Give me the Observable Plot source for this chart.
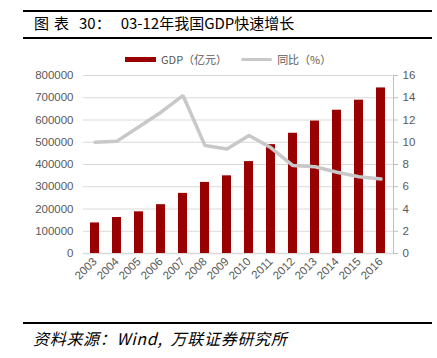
<!DOCTYPE html>
<html><head><meta charset="utf-8">
<script src="https://cdn.jsdelivr.net/npm/d3@7"></script>
<script src="https://cdn.jsdelivr.net/npm/@observablehq/plot@0.6"></script>
<style>
body{margin:0;background:#fff;}
#wrap{position:relative;width:437px;height:358px;overflow:hidden;font-family:"Noto Sans CJK SC",sans-serif;}
.rule{position:absolute;left:23px;width:409px;height:2px;background:#000;}
#title{position:absolute;left:34px;top:13px;font-size:15px;line-height:20px;color:#000;white-space:pre;}
#legend{position:absolute;left:125px;top:51px;font-size:11px;line-height:16px;color:#595959;white-space:nowrap;display:flex;align-items:center;}
#legend .sw{display:inline-block;width:31px;height:5px;margin-right:5px;}
#src{position:absolute;left:33px;top:327px;font-size:16px;line-height:22px;font-style:italic;color:#000;white-space:pre;letter-spacing:0.7px;}
#chart{position:absolute;left:0;top:0;}
</style></head><body>
<div id="wrap">
<div class="rule" style="top:10px"></div>
<div id="title"><span style="letter-spacing:5px">图表</span><span style="margin-left:5px">30：</span><span style="margin-left:10px">03-12年我国GDP快速增长</span></div>
<div class="rule" style="top:37px"></div>
<div id="chart"></div>
<div id="legend"><span class="sw" style="background:#990000"></span><span>GDP（亿元）</span><span class="sw" style="background:#c8c8c8;height:3px;border-radius:2px;margin-left:14px"></span><span>同比（%）</span></div>
<div class="rule" style="top:322px"></div>
<div id="src">资料来源：Wind,<span style="margin-left:8px">万联证券研究所</span></div>
</div>
<script>
const years = ["2003","2004","2005","2006","2007","2008","2009","2010","2011","2012","2013","2014","2015","2016"];
const gdp = [137422,161840,187319,219439,270232,319516,349081,413030,489301,540367,595244,643974,689052,744127];
const growth = [10.0,10.1,11.4,12.7,14.2,9.7,9.4,10.6,9.5,7.9,7.8,7.3,6.9,6.7];
const leftTicks = [0,100000,200000,300000,400000,500000,600000,700000,800000];
const rightTicks = [0,2,4,6,8,10,12,14,16];
const K = 800000 / 16;
const data = years.map((y, i) => ({year: y, gdp: gdp[i], growth: growth[i]}));

const chart = Plot.plot({
  width: 437, height: 358,
  marginTop: 75, marginBottom: 105, marginLeft: 83, marginRight: 44,
  style: {fontFamily: "'Liberation Sans', Arial, sans-serif", fontSize: "11.5px", color: "#595959", background: "transparent"},
  x: {type: "band", domain: years, paddingInner: 0.57, paddingOuter: 0.285, label: null},
  y: {domain: [0, 800000], label: null},
  marks: [
    Plot.ruleY(leftTicks.slice(1), {stroke: "#d9d9d9", strokeWidth: 1}),
    Plot.ruleY([0], {stroke: "#d9d9d9", strokeWidth: 1.5}),
    Plot.barY(data, {x: "year", y: "gdp", fill: "#990000"}),
    Plot.lineY(data, {x: "year", y: d => d.growth * K, stroke: "#c8c8c8", strokeWidth: 3.5, strokeLinejoin: "miter"}),
    Plot.axisY({ticks: leftTicks, tickSize: 0, tickPadding: 10, tickFormat: d => String(d), label: null, fontSize: 11.5}),
    Plot.axisY({anchor: "right", ticks: rightTicks.map(v => v * K), tickSize: 4, tickPadding: 5, tickFormat: d => String(d / K), label: null, stroke: "#bfbfbf", fontSize: 11.5}),
    Plot.frame({anchor: "right", stroke: "#bfbfbf"}),
    Plot.axisX({tickSize: 0, tickRotate: -45, tickPadding: 6, label: null, fontSize: 11.5})
  ]
});
document.getElementById("chart").appendChild(chart);
</script>
</body></html>
